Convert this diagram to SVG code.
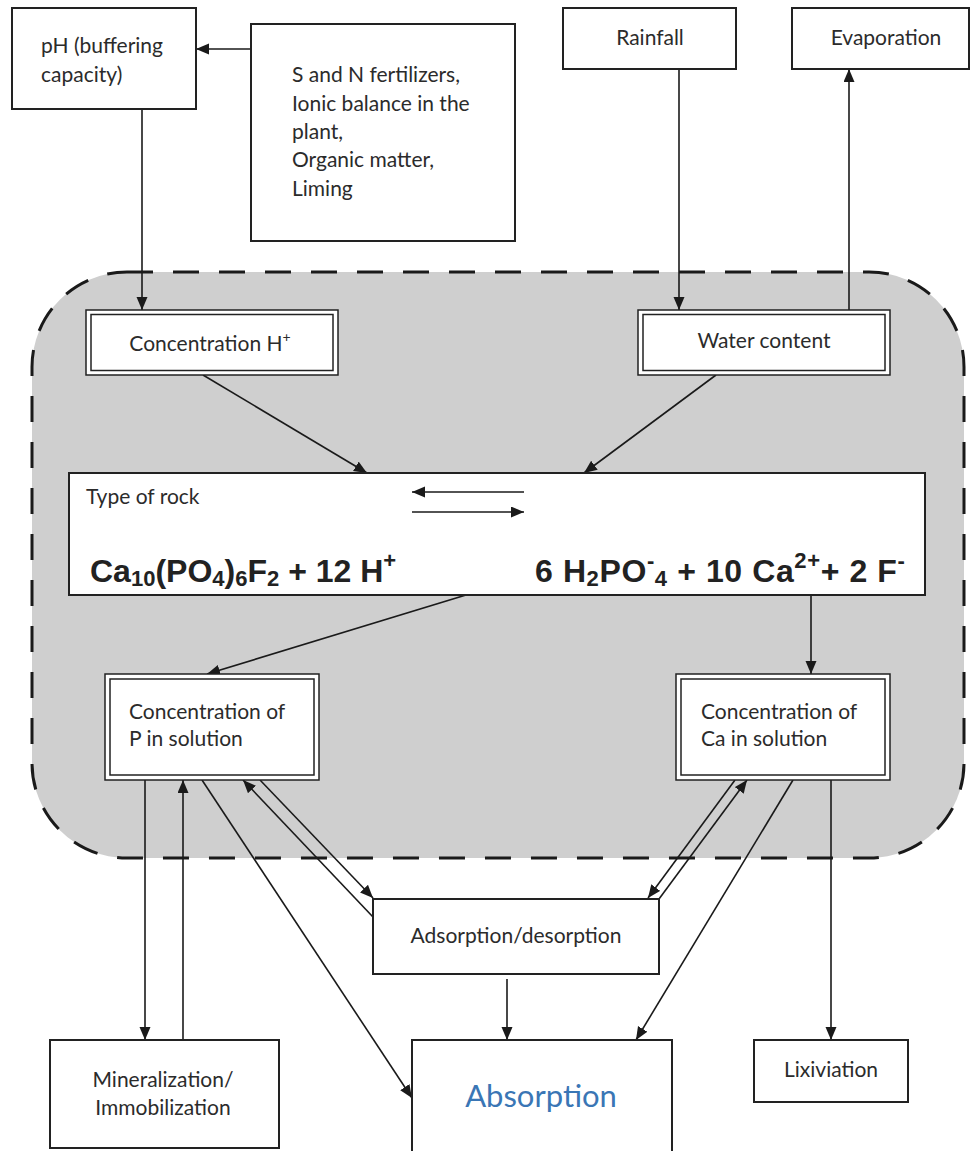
<svg xmlns="http://www.w3.org/2000/svg" width="972" height="1151" viewBox="0 0 972 1151">
<defs>
<marker id="ah" markerUnits="userSpaceOnUse" markerWidth="14" markerHeight="12" refX="13" refY="5.5" orient="auto">
<path d="M0,0 L13,5.5 L0,11 z" fill="#1a1a1a"/>
</marker>
<style>
.box{fill:#fff;stroke:#222;stroke-width:2}
.dbl{fill:#fff;stroke:#222;stroke-width:1.5}
.t{font-family:Lato,"Open Sans",sans-serif;font-size:21px;fill:#2b2b2b}
.c{text-anchor:middle}
.big{font-size:31px;fill:#3a76b5}
.eq{font-family:"Liberation Sans",Arial,sans-serif;font-weight:bold;font-size:32px;fill:#222}
.sub{font-size:22px}
.conn line{stroke:#1a1a1a;stroke-width:1.6;marker-end:url(#ah)}
.rev line{stroke:#1a1a1a;stroke-width:1.6}
</style>
</defs>
<rect width="972" height="1151" fill="#fff"/>
<g id="soil-zone">
<rect x="32" y="272" width="932" height="586" rx="95" ry="95" fill="#cfcfcf" stroke="#1a1a1a" stroke-width="3" stroke-dasharray="26 20"/>
</g>
<g id="connectors" class="conn">
<line x1="251" y1="49" x2="196" y2="49"/>
<line x1="142" y1="109" x2="142" y2="310"/>
<line x1="679" y1="69" x2="679" y2="310"/>
<line x1="849" y1="310" x2="849" y2="69"/>
<line x1="203" y1="375" x2="367" y2="473"/>
<line x1="716" y1="375" x2="584" y2="473"/>
<line x1="466" y1="595" x2="207" y2="674"/>
<line x1="811" y1="595" x2="811" y2="674"/>
<line x1="145" y1="780" x2="145" y2="1040"/>
<line x1="183" y1="1040" x2="183" y2="780"/>
<line x1="202" y1="780" x2="412" y2="1098"/>
<line x1="260" y1="780" x2="373" y2="898"/>
<line x1="373" y1="917" x2="243" y2="780"/>
<line x1="735" y1="780" x2="648" y2="898"/>
<line x1="659" y1="899" x2="747" y2="780"/>
<line x1="793" y1="780" x2="636" y2="1040"/>
<line x1="831" y1="780" x2="831" y2="1040"/>
<line x1="507" y1="979" x2="507" y2="1040"/>
</g>
<g id="ph">
<rect class="box" x="12" y="8" width="184" height="101"/>
<text class="t" x="41" y="53">pH (buffering</text>
<text class="t" x="41" y="82">capacity)</text>
</g>
<g id="factors">
<rect class="box" x="251" y="24" width="264" height="217"/>
<text class="t" x="292" y="82">S and N fertilizers,</text>
<text class="t" x="292" y="110.5">Ionic balance in the</text>
<text class="t" x="292" y="139">plant,</text>
<text class="t" x="292" y="167">Organic matter,</text>
<text class="t" x="292" y="195.5">Liming</text>
</g>
<g id="rainfall">
<rect class="box" x="563" y="8" width="173" height="61"/>
<text class="t c" x="650" y="45">Rainfall</text>
</g>
<g id="evaporation">
<rect class="box" x="792" y="8" width="177" height="61"/>
<text class="t c" x="886" y="45">Evaporation</text>
</g>
<g id="conc-h">
<rect class="dbl" x="86" y="310" width="252" height="65"/>
<rect class="dbl" x="91" y="314.5" width="242" height="56"/>
<text class="t c" x="210" y="351">Concentration H<tspan font-size="14" dy="-9">+</tspan></text>
</g>
<g id="water">
<rect class="dbl" x="638" y="310" width="252" height="65"/>
<rect class="dbl" x="643" y="314.5" width="242" height="56"/>
<text class="t c" x="764" y="348">Water content</text>
</g>
<g id="reaction">
<rect class="box" x="69" y="473" width="856" height="122"/>
<text class="t" x="86" y="504">Type of rock</text>
<g class="rev">
<line x1="524" y1="492" x2="412" y2="492" marker-end="url(#ah)"/>
<line x1="412" y1="512" x2="524" y2="512" marker-end="url(#ah)"/>
</g>
<text class="eq" x="90" y="582">Ca<tspan class="sub" dy="4">10</tspan><tspan dy="-4">(PO</tspan><tspan class="sub" dy="4">4</tspan><tspan dy="-4">)</tspan><tspan class="sub" dy="4">6</tspan><tspan dy="-4">F</tspan><tspan class="sub" dy="4">2</tspan><tspan dy="-4"> + 12 H</tspan><tspan class="sub" dy="-14">+</tspan></text>
<text class="eq" x="535" y="582" letter-spacing="0.6">6 H<tspan class="sub" dy="4">2</tspan><tspan dy="-4">PO</tspan><tspan class="sub" dy="-14">-</tspan><tspan class="sub" dy="18">4</tspan><tspan dy="-4"> + 10 Ca</tspan><tspan class="sub" dy="-14">2+</tspan><tspan dy="14">+ 2 F</tspan><tspan class="sub" dy="-14">-</tspan></text>
</g>
<g id="conc-p">
<rect class="dbl" x="105" y="674" width="214" height="106"/>
<rect class="dbl" x="110" y="679" width="204" height="96"/>
<text class="t" x="129" y="719">Concentration of</text>
<text class="t" x="129" y="746">P in solution</text>
</g>
<g id="conc-ca">
<rect class="dbl" x="676" y="674" width="214" height="106"/>
<rect class="dbl" x="681" y="679" width="204" height="96"/>
<text class="t" x="701" y="719">Concentration of</text>
<text class="t" x="701" y="746">Ca in solution</text>
</g>
<g id="adsorption">
<rect class="box" x="373" y="899" width="286" height="75"/>
<text class="t c" x="516" y="943">Adsorption/desorption</text>
</g>
<g id="mineralization">
<rect class="box" x="50" y="1040" width="229" height="108"/>
<text class="t c" x="163" y="1087">Mineralization/</text>
<text class="t c" x="163" y="1115">Immobilization</text>
</g>
<g id="absorption">
<rect class="box" x="412" y="1040" width="260" height="130"/>
<text class="t c big" x="541" y="1107">Absorption</text>
</g>
<g id="lixiviation">
<rect class="box" x="754" y="1040" width="154" height="62"/>
<text class="t c" x="831" y="1077">Lixiviation</text>
</g>
</svg>
